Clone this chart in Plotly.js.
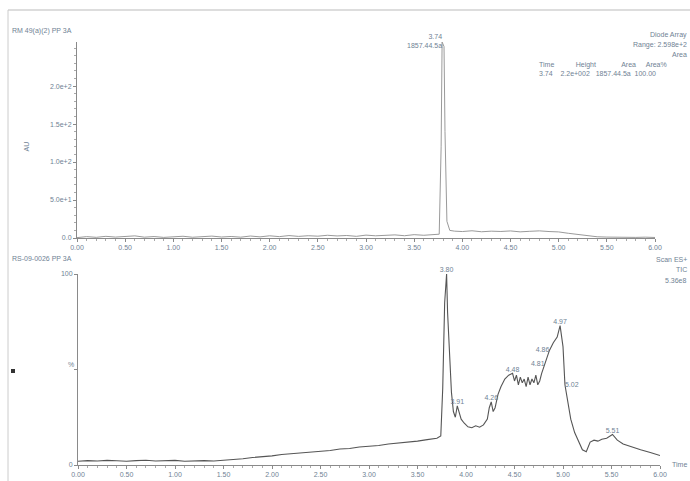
<!DOCTYPE html>
<html>
<head>
<meta charset="utf-8">
<script src="https://cdn.plot.ly/plotly-3.0.1.min.js"></script>
<style>html,body{margin:0;padding:0;background:#fff;}#chart{width:690px;height:481px;}</style>
</head>
<body>
<div id="chart"></div>
<script>
// ---- Data: UV (Diode Array) trace, top panel ----
const uvTime = [0.00,0.10,0.20,0.30,0.40,0.50,0.60,0.70,0.80,0.90,1.00,1.10,1.20,1.30,1.40,1.50,1.60,1.70,1.80,1.90,2.00,2.10,2.20,2.30,2.40,2.50,2.60,2.70,2.80,2.90,3.00,3.10,3.20,3.30,3.40,3.50,3.60,3.70,3.76,3.78,3.79,3.81,3.82,3.84,3.87,3.92,4.00,4.10,4.20,4.30,4.40,4.50,4.60,4.70,4.80,4.90,5.00,5.10,5.20,5.30,5.40,5.50,5.60,5.70,5.80,5.90,6.00];
const uvAbs  = [0.5,1.8,0.9,2.2,1.2,1.6,2.8,1.1,1.9,0.8,1.4,2.3,1.0,1.7,2.5,1.3,2.0,1.1,2.6,1.5,2.9,1.8,3.2,2.1,3.0,2.4,3.6,2.7,3.3,2.2,3.8,2.9,3.4,4.1,3.0,4.4,3.6,4.0,5,120,258,252,140,22,10,9,8.5,9.5,8.2,9.0,8.6,9.3,8.1,8.8,9.4,8.5,8.0,6.2,4.5,2.8,1.6,1.2,0.9,1.4,0.8,1.1,0.7];
const uvPeakTime = [3.79];
const uvPeakValue = [258];
const uvPeakLabel = ["3.74<br>1857.44.5a"];
const uvTickVals = [0,50,100,150,200];
const uvTickText = ["0.0","5.0e+1","1.0e+2","1.5e+2","2.0e+2"];

// ---- Data: TIC (Scan ES+) trace, bottom panel ----
const ticTime = [0.00,0.10,0.20,0.30,0.40,0.50,0.60,0.70,0.80,0.90,1.00,1.10,1.20,1.30,1.40,1.50,1.60,1.70,1.80,1.90,2.00,2.10,2.20,2.30,2.40,2.50,2.60,2.70,2.80,2.90,3.00,3.10,3.20,3.30,3.40,3.50,3.60,3.70,3.74,3.76,3.78,3.80,3.81,3.83,3.85,3.87,3.89,3.91,3.93,3.95,3.98,4.02,4.06,4.10,4.14,4.18,4.22,4.24,4.26,4.28,4.30,4.33,4.36,4.40,4.44,4.48,4.50,4.52,4.54,4.56,4.58,4.60,4.62,4.64,4.66,4.68,4.70,4.72,4.74,4.76,4.78,4.81,4.83,4.86,4.90,4.94,4.97,5.00,5.02,5.05,5.08,5.12,5.16,5.20,5.24,5.28,5.32,5.36,5.40,5.45,5.51,5.56,5.62,5.70,5.80,5.90,6.00];
const ticPct  = [2.0,2.3,2.1,2.4,2.2,2.0,2.3,2.5,2.1,2.2,2.4,2.0,2.2,2.3,2.1,2.4,2.8,3.3,3.9,4.2,4.8,5.5,5.9,6.2,6.8,7.3,7.6,8.4,8.6,9.4,9.8,10.2,11.0,11.4,12.1,12.5,13.3,14.0,15.2,40,85,100,80,55,38,28,25,31,27,24,22,20,19.5,20.5,19.8,21,24,30,33,28,30,37,41,45,47,48,44,47,42,46,43,45,41,46,42,45,43,47,42,44,48,53,55,60,64,67,73,62,42,32,24,17,12,8,7,12,13,12.5,13.5,14,16,13,11,9.5,8,6.5,5];
const ticPeakTime  = [3.80,3.91,4.26,4.48,4.81,4.86,4.97,5.02,5.51];
const ticPeakValue = [100,31,33,48,53,60,73,42,16];
const ticPeakLabel = ["3.80","3.91","4.26","4.48","4.81","4.86","4.97","5.02","5.51"];

// ---- Shared axis ticks ----
const timeTicks = [0,0.5,1,1.5,2,2.5,3,3.5,4,4.5,5,5.5,6];
const timeTickText = ["0.00","0.50","1.00","1.50","2.00","2.50","3.00","3.50","4.00","4.50","5.00","5.50","6.00"];

const W = 690, H = 481;
const px = x => x / W, py = y => 1 - y / H;
const txtCol = '#6f8294', axCol = '#8a8a8a';
const fnt = {family:'Liberation Sans, Arial, sans-serif', size:7, color:txtCol};
const ticLabelPos = ['top center','top center','top center','top center','middle left','middle left','top center','middle right','top center'];

const traces = [
  {x:uvTime, y:uvAbs, xaxis:'x', yaxis:'y', mode:'lines', line:{color:'#9a9a9a', width:1}, hoverinfo:'skip'},
  {x:uvPeakTime, y:uvPeakValue, xaxis:'x', yaxis:'y', mode:'text', text:uvPeakLabel, textposition:'middle left', textfont:fnt, cliponaxis:false, hoverinfo:'skip'},
  {x:ticTime, y:ticPct, xaxis:'x2', yaxis:'y2', mode:'lines', line:{color:'#555555', width:1.1}, hoverinfo:'skip'},
  {x:ticPeakTime, y:ticPeakValue, xaxis:'x2', yaxis:'y2', mode:'text', text:ticPeakLabel, textposition:ticLabelPos, textfont:fnt, cliponaxis:false, hoverinfo:'skip'}
];

const xCommon = {
  range:[0,6], tickvals:timeTicks, ticktext:timeTickText, showgrid:false, zeroline:false,
  showline:true, linecolor:axCol, linewidth:1, ticks:'outside', ticklen:3, tickcolor:axCol,
  minor:{ticks:'outside', ticklen:2, tickcolor:'#aaaaaa', dtick:0.1},
  tickfont:fnt
};

const layout = {
  width:W, height:H, margin:{l:0,r:0,t:0,b:0}, paper_bgcolor:'#fff', plot_bgcolor:'#fff',
  showlegend:false,
  xaxis:Object.assign({}, xCommon, {domain:[px(77), px(655)], anchor:'y'}),
  yaxis:{domain:[py(238), py(42)], range:[0,258], anchor:'x', tickvals:uvTickVals, ticktext:uvTickText,
         showgrid:false, zeroline:false, showline:true, linecolor:axCol, ticks:'outside', ticklen:3, tickcolor:axCol,
         minor:{ticks:'outside', ticklen:2, tickcolor:'#aaaaaa', dtick:10}, tickfont:fnt},
  xaxis2:Object.assign({}, xCommon, {domain:[px(78), px(660)], anchor:'y2'}),
  yaxis2:{domain:[py(465), py(274)], range:[0,100], anchor:'x2', tickvals:[0,50,100], ticktext:['0','','100'],
         showgrid:false, zeroline:false, showline:true, linecolor:axCol, ticks:'outside', ticklen:3, tickcolor:axCol,
         tickfont:fnt},
  annotations:[
    {xref:'paper', yref:'paper', x:px(10), y:py(31), text:'RM 49(a)(2) PP 3A', showarrow:false, xanchor:'left', yanchor:'middle', font:fnt},
    {xref:'paper', yref:'paper', x:px(20), y:py(140), text:'AU', textangle:-90, showarrow:false, font:fnt},
    {xref:'paper', yref:'paper', x:px(689), y:py(29), text:'Diode Array', showarrow:false, xanchor:'right', font:fnt},
    {xref:'paper', yref:'paper', x:px(689), y:py(39), text:'Range: 2.598e+2', showarrow:false, xanchor:'right', font:fnt},
    {xref:'paper', yref:'paper', x:px(689), y:py(49), text:'Area', showarrow:false, xanchor:'right', font:fnt},
    {xref:'paper', yref:'paper', x:px(537), y:py(59), text:'Time&nbsp;&nbsp;&nbsp;&nbsp;&nbsp;&nbsp;&nbsp;&nbsp;&nbsp;&nbsp;&nbsp;Height&nbsp;&nbsp;&nbsp;&nbsp;&nbsp;&nbsp;&nbsp;&nbsp;&nbsp;&nbsp;&nbsp;&nbsp;&nbsp;Area&nbsp;&nbsp;&nbsp;&nbsp;&nbsp;Area%', showarrow:false, xanchor:'left', font:fnt},
    {xref:'paper', yref:'paper', x:px(537), y:py(68), text:'3.74&nbsp;&nbsp;&nbsp;&nbsp;2.2e+002&nbsp;&nbsp;&nbsp;1857.44.5a&nbsp;&nbsp;100.00', showarrow:false, xanchor:'left', font:fnt},
    {xref:'paper', yref:'paper', x:px(10), y:py(258), text:'RS-09-0026 PP 3A', showarrow:false, xanchor:'left', font:fnt},
    {xref:'paper', yref:'paper', x:px(689), y:py(259), text:'Scan ES+', showarrow:false, xanchor:'right', font:fnt},
    {xref:'paper', yref:'paper', x:px(689), y:py(269), text:'TIC', showarrow:false, xanchor:'right', font:fnt},
    {xref:'paper', yref:'paper', x:px(689), y:py(280), text:'5.36e8', showarrow:false, xanchor:'right', font:fnt},
    {xref:'paper', yref:'paper', x:px(66), y:py(370), text:'%', showarrow:false, font:fnt},
    {xref:'paper', yref:'paper', x:px(689), y:py(470), text:'Time', showarrow:false, xanchor:'right', font:fnt}
  ],
  shapes:[
    {type:'line', xref:'paper', yref:'paper', x0:px(8), x1:1, y0:py(10), y1:py(10), line:{color:'#bbbbbb', width:1}},
    {type:'line', xref:'paper', yref:'paper', x0:px(8), x1:px(8), y0:py(10), y1:0, line:{color:'#cccccc', width:1}},
    {type:'rect', xref:'paper', yref:'paper', x0:px(11), x1:px(15), y0:py(373), y1:py(369), fillcolor:'#333', line:{width:0}}
  ]
};

Plotly.newPlot('chart', traces, layout, {staticPlot:true, displayModeBar:false});
</script>
</body>
</html>
